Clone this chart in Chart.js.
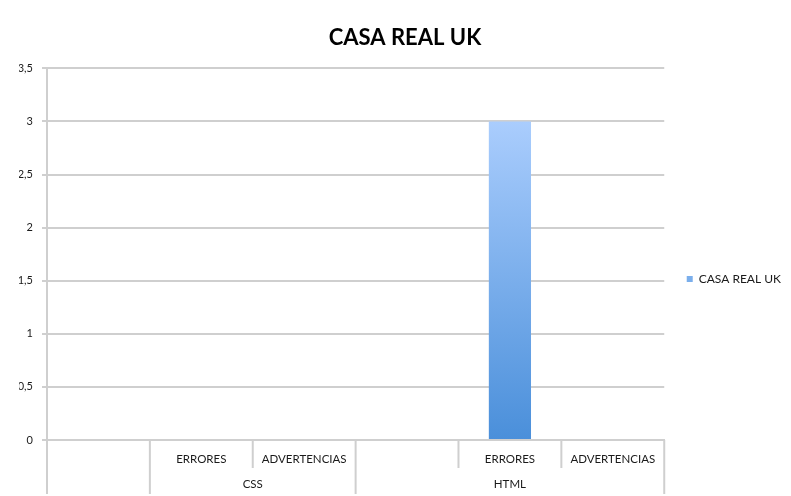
<!DOCTYPE html>
<html>
<head>
<meta charset="utf-8">
<script src="https://cdn.jsdelivr.net/npm/chart.js@4/dist/chart.umd.min.js"></script>
<style>
  html, body { margin: 0; padding: 0; background: #ffffff; }
  #wrap { width: 791px; height: 496px; }
</style>
</head>
<body>
<div id="wrap"><canvas id="c" width="791" height="496"></canvas></div>
<script>
const chartTitle = "CASA REAL UK";
const seriesName = "CASA REAL UK";
const categories = ["", "ERRORES", "ADVERTENCIAS", "", "ERRORES", "ADVERTENCIAS"];
const groups = ["", "CSS", "CSS", "HTML", "HTML", "HTML"];
const values = [null, 0, 0, null, 3, 0];
const yTicks = [0, 0.5, 1, 1.5, 2, 2.5, 3, 3.5];
const yTickLabels = ["0", "0,5", "1", "1,5", "2", "2,5", "3", "3,5"];

const FONT = "Lato, 'Open Sans', sans-serif";
const gridColor = "#cfcfcf";

const groupAxisPlugin = {
  id: 'groupAxis',
  afterDraw(chart) {
    const ctx = chart.ctx;
    const x = chart.scales.x;
    const area = chart.chartArea;
    const n = categories.length;
    const half = (x.getPixelForValue(1) - x.getPixelForValue(0)) / 2;
    const y0 = area.bottom;
    const shortEnd = y0 + 28;
    const longEnd = y0 + 54;
    ctx.save();
    ctx.strokeStyle = gridColor;
    ctx.lineWidth = 2;
    for (let i = 0; i <= n; i++) {
      let px;
      if (i < n) px = x.getPixelForValue(i) - half; else px = x.getPixelForValue(n - 1) + half;
      const isLong = (i === 0 || i === n || groups[i] !== groups[i - 1]);
      ctx.beginPath();
      ctx.moveTo(px, y0);
      ctx.lineTo(px, isLong ? longEnd : shortEnd);
      ctx.stroke();
    }
    ctx.fillStyle = "#1a1a1a";
    ctx.font = "11.5px " + FONT;
    ctx.textAlign = "center";
    ctx.textBaseline = "middle";
    let start = 0;
    for (let i = 1; i <= n; i++) {
      if (i === n || groups[i] !== groups[start]) {
        const left = x.getPixelForValue(start) - half;
        const right = x.getPixelForValue(i - 1) + half;
        if (groups[start]) ctx.fillText(groups[start], (left + right) / 2, y0 + 44);
        start = i;
      }
    }
    ctx.restore();
  }
};

const ctx = document.getElementById('c').getContext('2d');
new Chart(ctx, {
  type: 'bar',
  data: {
    labels: categories,
    datasets: [{
      label: seriesName,
      data: values,
      backgroundColor: (c) => {
        const chart = c.chart;
        const area = chart.chartArea;
        if (!area) return '#7fb0ee';
        const yTop = chart.scales.y.getPixelForValue(3);
        const g = chart.ctx.createLinearGradient(0, yTop, 0, area.bottom);
        g.addColorStop(0, '#aacdfd');
        g.addColorStop(1, '#4a8fda');
        return g;
      },
      borderWidth: 0,
      categoryPercentage: 1,
      barPercentage: 0.41
    }]
  },
  options: {
    responsive: false,
    animation: false,
    devicePixelRatio: 1,
    layout: { padding: { left: 19, right: 0, top: 0, bottom: 0 } },
    plugins: {
      title: {
        display: true,
        text: chartTitle,
        color: '#000000',
        font: { family: FONT, size: 22, weight: 'bold' },
        padding: { top: 25, bottom: 17 }
      },
      legend: {
        position: 'right',
        title: {
          display: true,
          text: ' ',
          font: { family: FONT, size: 11 },
          padding: { top: 49, bottom: 0 }
        },
        labels: {
          boxWidth: 6,
          boxHeight: 6,
          color: '#1a1a1a',
          font: { family: FONT, size: 12 },
          padding: 22.5
        }
      },
      tooltip: { enabled: false }
    },
    scales: {
      y: {
        min: 0,
        max: 3.5,
        afterBuildTicks: (s) => { s.ticks = yTicks.map(v => ({ value: v })); },
        afterFit: (s) => { s.width = 28; },
        ticks: {
          callback: (v) => yTickLabels[yTicks.indexOf(v)],
          color: '#1a1a1a',
          font: { family: FONT, size: 11 },
          padding: 9
        },
        grid: { color: gridColor, lineWidth: 2, tickLength: 5 },
        border: { color: gridColor, width: 2 }
      },
      x: {
        afterFit: (s) => { s.height = 56; },
        ticks: {
          color: '#1a1a1a',
          font: { family: FONT, size: 11.5 },
          padding: 12,
          maxRotation: 0,
          autoSkip: false
        },
        grid: { display: false, drawTicks: false },
        border: { color: gridColor, width: 2 }
      }
    }
  },
  plugins: [groupAxisPlugin]
});
</script>
</body>
</html>
